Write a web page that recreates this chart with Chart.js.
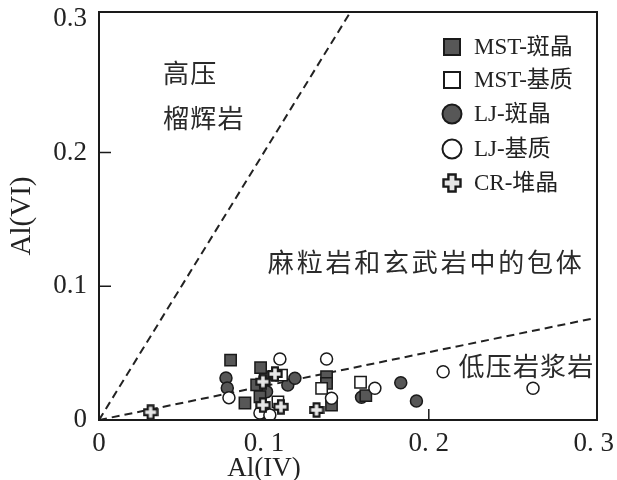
<!DOCTYPE html>
<html>
<head>
<meta charset="utf-8">
<script src="https://cdn.jsdelivr.net/npm/chart.js@4/dist/chart.umd.min.js"></script>
<style>
  html, body { margin: 0; padding: 0; background: #fff; }
  #wrap { width: 617px; height: 480px; }
</style>
</head>
<body>
<div id="wrap"><canvas id="c" width="617" height="480"></canvas></div>
<script>
// Al(IV) vs Al(VI) of clinopyroxene, pairs of [Al(IV), Al(VI)]
const mstPheno = [
  [0.0798, 0.0448], [0.0885, 0.0127], [0.0980, 0.0391], [0.0956, 0.0262],
  [0.0976, 0.0174], [0.1380, 0.0324], [0.1380, 0.0274], [0.1410, 0.0112],
  [0.1618, 0.0182]
];
const mstMatrix = [
  [0.1085, 0.0135], [0.1107, 0.0336], [0.1350, 0.0237], [0.1586, 0.0282]
];
const ljPheno = [
  [0.0770, 0.0314], [0.0778, 0.0239], [0.1016, 0.0212], [0.1145, 0.0262],
  [0.1188, 0.0312], [0.1592, 0.0170], [0.1830, 0.0279], [0.1925, 0.0142],
  [0.1006, 0.0321]
];
const ljMatrix = [
  [0.0788, 0.0167], [0.1097, 0.0456], [0.0976, 0.0052], [0.1036, 0.0037],
  [0.1380, 0.0456], [0.1410, 0.0162], [0.1673, 0.0237], [0.2087, 0.0361],
  [0.2632, 0.0237]
];
const crCumulate = [
  [0.0313, 0.0058], [0.1067, 0.0344], [0.0994, 0.0286], [0.0994, 0.0112],
  [0.1103, 0.0099], [0.1319, 0.0075]
];

// field boundaries (dashed), endpoints from the origin
const highPressureBoundary = [[0, 0], [0.1525, 0.305]];
const lowPressureBoundary = [[0, 0], [0.3, 0.076]];

const seriesNames = ['MST-斑晶', 'MST-基质', 'LJ-斑晶', 'LJ-基质', 'CR-堆晶'];
const yTickValues = [0, 0.1, 0.2, 0.3];
const yTickLabels = ['0', '0.1', '0.2', '0.3'];
const xTickValues = [0, 0.1, 0.2, 0.3];
const xTickLabels = ['0', '0. 1', '0. 2', '0. 3'];

// field names: [text, Al(IV) of left edge, Al(VI) of text middle]
const fieldLabels = [
  ['高压', 0.0388, 0.259],
  ['榴辉岩', 0.0388, 0.2257],
  ['麻粒岩和玄武岩中的包体', 0.1024, 0.118],
  ['低压岩浆岩', 0.218, 0.0404]
];

const toXY = arr => arr.map(p => ({ x: p[0], y: p[1] }));

const DARK = '#575757';
const EDGE = '#1a1a1a';
const CROSS_FILL = '#e6e6e6';
const SERIF = '"Liberation Serif", "Noto Sans CJK SC", serif';
const CJK = '"Noto Sans CJK SC", sans-serif';

// thick plus sign used for the cumulate series
function plusImage(size, lw) {
  const c = document.createElement('canvas');
  c.width = size; c.height = size;
  const g = c.getContext('2d');
  const m = lw / 2 + 0.3;
  const lo = size * 0.32, hi = size * 0.68;
  const e0 = m, e1 = size - m;
  g.beginPath();
  g.moveTo(lo, e0); g.lineTo(hi, e0); g.lineTo(hi, lo); g.lineTo(e1, lo);
  g.lineTo(e1, hi); g.lineTo(hi, hi); g.lineTo(hi, e1); g.lineTo(lo, e1);
  g.lineTo(lo, hi); g.lineTo(e0, hi); g.lineTo(e0, lo); g.lineTo(lo, lo);
  g.closePath();
  g.fillStyle = CROSS_FILL; g.fill();
  g.lineJoin = 'miter';
  g.lineWidth = lw; g.strokeStyle = EDGE; g.stroke();
  return c;
}
const plusSmall = plusImage(16, 2.2);
const plusLegend = plusImage(20, 2.4);

const frameAndText = {
  id: 'frameAndText',
  beforeDatasetsDraw(chart) {
    const { ctx, chartArea: a, scales: { x, y } } = chart;
    ctx.save();
    ctx.strokeStyle = EDGE;
    ctx.lineWidth = 1.5;
    // inward tick marks
    ctx.beginPath();
    [0.1, 0.2].forEach(v => {
      const py = y.getPixelForValue(v);
      ctx.moveTo(a.left, py); ctx.lineTo(a.left + 12, py);
      const px = x.getPixelForValue(v);
      ctx.moveTo(px, a.bottom); ctx.lineTo(px, a.bottom - 11);
    });
    ctx.stroke();
    // field names
    ctx.fillStyle = '#2a2a2a';
    ctx.textBaseline = 'middle';
    ctx.textAlign = 'left';
    fieldLabels.forEach(([t, vx, vy]) => {
      ctx.font = '26px ' + CJK;
      ctx.letterSpacing = t.length > 6 ? '2.8px' : '1.2px';
      ctx.fillText(t, x.getPixelForValue(vx), y.getPixelForValue(vy));
    });
    ctx.letterSpacing = '0px';
    ctx.restore();
  },
  afterDraw(chart) {
    const { ctx, chartArea: a, scales: { x, y } } = chart;
    ctx.save();
    // plot frame
    ctx.strokeStyle = EDGE;
    ctx.lineWidth = 2;
    ctx.strokeRect(a.left, a.top, a.right - a.left, a.bottom - a.top);

    // axis titles
    ctx.fillStyle = '#222';
    ctx.font = '27px ' + SERIF;
    ctx.textAlign = 'center';
    ctx.textBaseline = 'middle';
    ctx.fillText('Al(IV)', x.getPixelForValue(0.1), 469);
    ctx.font = '29px ' + SERIF;
    ctx.translate(22, (a.top + a.bottom) / 2);
    ctx.rotate(-Math.PI / 2);
    ctx.fillText('Al(VI)', 0, 0);
    ctx.restore();

    // legend
    ctx.save();
    const mx = 452, tx = 474;
    const rows = [47, 80, 114, 149, 183];
    ctx.lineWidth = 2;
    ctx.strokeStyle = EDGE;
    // filled square
    ctx.fillStyle = DARK;
    ctx.fillRect(mx - 8, rows[0] - 8, 16, 16);
    ctx.strokeRect(mx - 8, rows[0] - 8, 16, 16);
    // open square
    ctx.fillStyle = '#fff';
    ctx.fillRect(mx - 8, rows[1] - 8, 16, 16);
    ctx.strokeRect(mx - 8, rows[1] - 8, 16, 16);
    // filled circle
    ctx.beginPath(); ctx.arc(mx, rows[2], 9.5, 0, Math.PI * 2);
    ctx.fillStyle = DARK; ctx.fill(); ctx.stroke();
    // open circle
    ctx.beginPath(); ctx.arc(mx, rows[3], 9.5, 0, Math.PI * 2);
    ctx.fillStyle = '#fff'; ctx.fill(); ctx.stroke();
    // plus
    ctx.drawImage(plusLegend, mx - 10, rows[4] - 10);

    ctx.fillStyle = '#222';
    ctx.font = '23px ' + SERIF;
    ctx.textAlign = 'left';
    ctx.textBaseline = 'middle';
    seriesNames.forEach((n, i) => ctx.fillText(n, tx, rows[i] + 1));
    ctx.restore();
  }
};

const dashed = {
  type: 'line', showLine: true, borderColor: '#222', borderWidth: 2,
  borderDash: [8, 5], pointRadius: 0, fill: false, tension: 0, order: 10
};

new Chart(document.getElementById('c'), {
  type: 'scatter',
  data: {
    datasets: [
      Object.assign({ label: 'boundary-high', data: toXY(highPressureBoundary) }, dashed),
      Object.assign({ label: 'boundary-low', data: toXY(lowPressureBoundary) }, dashed),
      {
        label: seriesNames[2], data: toXY(ljPheno), pointStyle: 'circle',
        pointRadius: 6, backgroundColor: DARK, borderColor: EDGE, borderWidth: 1.5, order: 5
      },
      {
        label: seriesNames[0], data: toXY(mstPheno), pointStyle: 'rect',
        pointRadius: 8, backgroundColor: DARK, borderColor: EDGE, borderWidth: 1.5, order: 4
      },
      {
        label: seriesNames[3], data: toXY(ljMatrix), pointStyle: 'circle',
        pointRadius: 6, backgroundColor: '#fff', borderColor: EDGE, borderWidth: 1.5, order: 3
      },
      {
        label: seriesNames[1], data: toXY(mstMatrix), pointStyle: 'rect',
        pointRadius: 8, backgroundColor: '#fff', borderColor: EDGE, borderWidth: 1.5, order: 2
      },
      {
        label: seriesNames[4], data: toXY(crCumulate), pointStyle: plusSmall,
        pointRadius: 8, order: 1
      }
    ]
  },
  options: {
    responsive: false,
    animation: false,
    events: [],
    layout: { padding: { top: 12, right: 20, left: 0, bottom: 0 } },
    plugins: { legend: { display: false }, tooltip: { enabled: false } },
    scales: {
      x: {
        type: 'linear', min: 0, max: 0.302,
        grid: { display: false, drawTicks: false },
        border: { display: false },
        afterFit(s) { s.height = 60; s.paddingRight = 0; s.paddingLeft = 0; },
        afterBuildTicks(s) { s.ticks = xTickValues.map(v => ({ value: v })); },
        ticks: {
          padding: 8, color: '#222', maxRotation: 0, autoSkip: false,
          font: { family: '"Liberation Serif"', size: 27 },
          callback: (v) => xTickLabels[xTickValues.indexOf(v)]
        }
      },
      y: {
        type: 'linear', min: 0, max: 0.305,
        grid: { display: false, drawTicks: false },
        border: { display: false },
        afterFit(s) { s.width = 99; s.paddingTop = 0; s.paddingBottom = 0; },
        afterBuildTicks(s) { s.ticks = yTickValues.map(v => ({ value: v })); },
        ticks: {
          padding: 12, color: '#222', autoSkip: false,
          font: { family: '"Liberation Serif"', size: 27 },
          callback: (v) => yTickLabels[yTickValues.indexOf(v)]
        }
      }
    }
  },
  plugins: [frameAndText]
});
</script>
</body>
</html>
